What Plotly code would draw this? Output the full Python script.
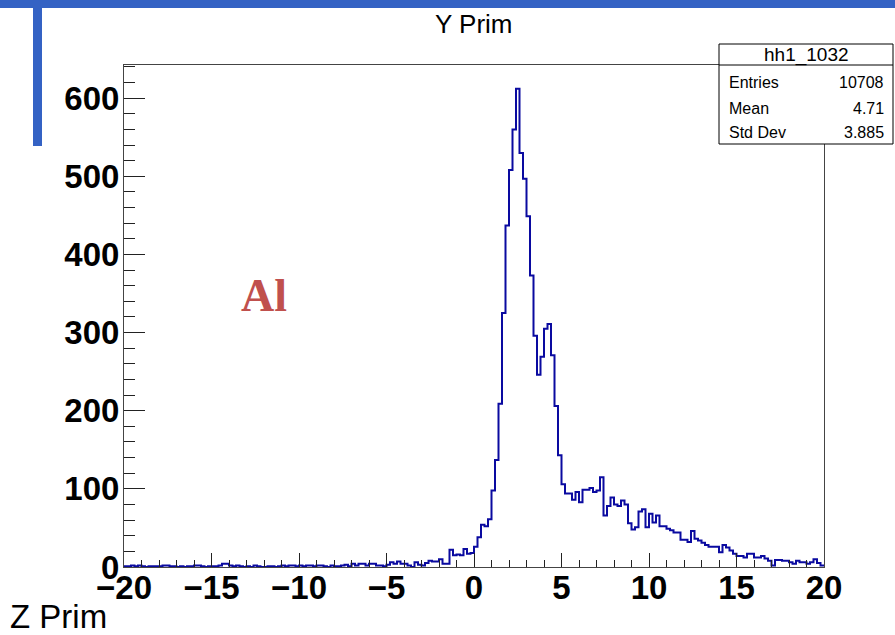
import plotly.graph_objects as go

# histogram definition (ROOT hh1_1032)
hist_name = "hh1_1032"
x_lo, x_hi, n_bins = -20.0, 20.0, 200
counts = [
    # -20 .. -5
    1, 1, 2, 1, 2, 1, 0, 1, 1, 1,
    1, 2, 2, 1, 1, 0, 1, 0, 1, 1,
    2, 2, 1, 0, 1, 1, 1, 2, 4, 4,
    2, 1, 2, 1, 0, 1, 0, 2, 1, 0,
    0, 1, 1, 0, 1, 2, 1, 2, 2, 1,
    2, 1, 2, 2, 1, 2, 2, 1, 0, 2,
    1, 1, 2, 3, 1, 4, 2, 4, 4, 2,
    4, 4, 2, 2, 1,
    # -5 .. 0
    3, 6, 4, 7, 4, 4, 2, 0, 6, 3,
    2, 5, 8, 7, 7, 10, 4, 4, 22, 15,
    16, 15, 23, 17, 18,
    # 0 .. 20
    26, 38, 54, 52, 61, 98, 137, 209, 325, 437,
    508, 560, 612, 530, 497, 449, 373, 296, 246, 269,
    305, 311, 271, 206, 143, 106, 94, 94, 86, 96,
    83, 99, 99, 101, 96, 98, 115, 66, 78, 89,
    80, 78, 85, 80, 56, 48, 51, 71, 74, 51,
    68, 57, 66, 52, 52, 49, 47, 44, 44, 35,
    35, 32, 46, 36, 34, 31, 28, 26, 26, 26,
    19, 28, 25, 21, 17, 14, 14, 12, 17, 17,
    12, 12, 14, 11, 8, 2, 9, 9, 8, 8,
    6, 4, 8, 6, 6, 4, 6, 10, 5, 2,
]
stats_labels = ["Entries", "Mean", "Std Dev"]
stats_values = ["10708", "4.71", "3.885"]

W, H = 895, 635
L, R, T, B = 124, 824, 65, 567


def px_x(px):
    return (px - L) / (R - L)


def px_y(py):
    return (B - py) / (B - T)


bw = (x_hi - x_lo) / n_bins
edges = [x_lo + i * bw for i in range(n_bins + 1)]

fig = go.Figure()
fig.add_trace(go.Scatter(
    x=edges, y=counts + [counts[-1]],
    mode="lines", line_shape="hv",
    line=dict(color="#0a0aa0", width=2),
    showlegend=False, hoverinfo="skip",
))

axis_font = dict(family="Liberation Sans, Arial", size=33, color="black", weight="bold")
fig.update_xaxes(
    range=[x_lo, x_hi], dtick=5, tick0=0,
    ticks="inside", ticklen=14, tickcolor="#222", tickwidth=1,
    minor=dict(dtick=1, ticks="inside", ticklen=7, tickcolor="#222"),
    showline=True, linecolor="#444", linewidth=1, mirror=True,
    showgrid=False, zeroline=False, tickfont=axis_font,
    ticklabelstandoff=-9,
)
fig.update_yaxes(
    range=[0, 642.5], dtick=100, tick0=0,
    ticks="inside", ticklen=21, tickcolor="#222", tickwidth=1,
    minor=dict(dtick=20, ticks="inside", ticklen=11, tickcolor="#222"),
    showline=True, linecolor="#444", linewidth=1, mirror=True,
    showgrid=False, zeroline=False, tickfont=axis_font,
    ticklabelstandoff=-3,
)

blue = "#3462c4"
shapes = [
    dict(type="rect", xref="paper", yref="paper", x0=px_x(0), x1=px_x(W),
         y0=px_y(8), y1=px_y(0), fillcolor=blue, line_width=0),
    dict(type="rect", xref="paper", yref="paper", x0=px_x(33), x1=px_x(42),
         y0=px_y(146), y1=px_y(0), fillcolor=blue, line_width=0),
    # stats box
    dict(type="rect", xref="paper", yref="paper", x0=px_x(719), x1=px_x(893),
         y0=px_y(144), y1=px_y(44), fillcolor="white", line=dict(color="black", width=1)),
    dict(type="line", xref="paper", yref="paper", x0=px_x(719), x1=px_x(893),
         y0=px_y(65), y1=px_y(65), line=dict(color="black", width=1)),
]

annotations = [
    dict(text="Y Prim", xref="paper", yref="paper", x=0.5, y=px_y(24),
         xanchor="center", yanchor="middle", showarrow=False,
         font=dict(family="Liberation Sans, Arial", size=26, color="black")),
    dict(text="Z Prim", xref="paper", yref="paper", x=px_x(8), y=px_y(616),
         xanchor="left", yanchor="middle", showarrow=False,
         font=dict(family="Liberation Sans, Arial", size=33, color="black")),
    dict(text="Al", xref="paper", yref="paper", x=px_x(264), y=px_y(295),
         xanchor="center", yanchor="middle", showarrow=False,
         font=dict(family="Liberation Serif, Times New Roman", size=46,
                   color="#c0504d", weight="bold")),
    dict(text=hist_name, xref="paper", yref="paper", x=px_x(806), y=px_y(55),
         xanchor="center", yanchor="middle", showarrow=False,
         font=dict(family="Liberation Sans, Arial", size=19, color="black")),
]
row_y = [83, 108, 132]
for lab, val, yy in zip(stats_labels, stats_values, row_y):
    annotations.append(dict(text=lab, xref="paper", yref="paper", x=px_x(727), y=px_y(yy),
                            xanchor="left", yanchor="middle", showarrow=False,
                            font=dict(family="Liberation Sans, Arial", size=16, color="black")))
    annotations.append(dict(text=val, xref="paper", yref="paper", x=px_x(886), y=px_y(yy),
                            xanchor="right", yanchor="middle", showarrow=False,
                            font=dict(family="Liberation Sans, Arial", size=16, color="black")))

fig.update_layout(
    width=W, height=H,
    margin=dict(l=L, r=W - R, t=T, b=H - B),
    paper_bgcolor="white", plot_bgcolor="white",
    shapes=shapes, annotations=annotations,
)

# drop the default 8px body margin so the figure sits at the page corner
fig.write_html("out.html", config={"displayModeBar": False},
               post_script="document.body.style.margin='0';")
